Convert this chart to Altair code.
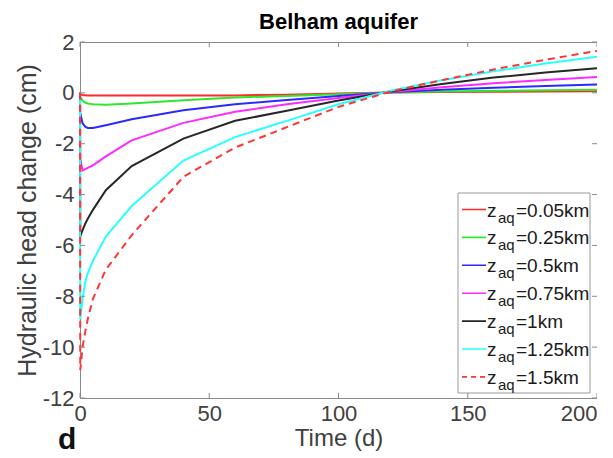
import altair as alt
import pandas as pd

# ---- data ----
t = [0, 0.1, 1, 2, 3, 5, 10, 20, 40, 60, 80, 100, 120, 140, 160, 180, 200]
z005 = [0, -0.05, -0.08, -0.09, -0.1, -0.1, -0.1, -0.1, -0.1, -0.1, -0.07, -0.03, 0.01, 0.03, 0.04, 0.05, 0.06]
z025 = [0, -0.15, -0.3, -0.38, -0.42, -0.45, -0.47, -0.42, -0.29, -0.18, -0.12, -0.05, 0.01, 0.05, 0.08, 0.1, 0.12]
z05 = [0, -0.8, -1.2, -1.33, -1.38, -1.38, -1.27, -1.04, -0.68, -0.45, -0.28, -0.12, 0.02, 0.12, 0.2, 0.27, 0.33]
z075 = [0, -2.6, -3.05, -3.0, -2.95, -2.85, -2.5, -1.87, -1.18, -0.74, -0.45, -0.2, 0.03, 0.22, 0.38, 0.51, 0.62]
z1 = [0, -5.65, -5.4, -5.15, -4.95, -4.6, -3.83, -2.88, -1.8, -1.1, -0.7, -0.3, 0.05, 0.35, 0.6, 0.8, 0.97]
z125 = [0, -8.9, -8.1, -7.45, -7.1, -6.6, -5.65, -4.45, -2.66, -1.74, -1.1, -0.45, 0.08, 0.5, 0.85, 1.15, 1.42]
z15 = [0, -10.9, -10.0, -9.4, -8.9, -8.1, -6.95, -5.6, -3.3, -2.15, -1.35, -0.55, 0.05, 0.5, 0.92, 1.3, 1.65]

series_vals = [z005, z025, z05, z075, z1, z125, z15]
series_labels = ["0.05", "0.25", "0.5", "0.75", "1", "1.25", "1.5"]
series_colors = ["#ff2a2a", "#2ee82e", "#2a2aff", "#ff2aff", "#262626", "#2affff", "#ff3535"]
series_dash = ["solid", "solid", "solid", "solid", "solid", "solid", "dash"]

x_ticks = [0, 50, 100, 150, 200]
y_ticks = [-12, -10, -8, -6, -4, -2, 0, 2]

title_text = "Belham aquifer"
panel_letter = "d"

FONT = "Liberation Sans"
W, H = 517, 356
FRAME = "#8a8a8a"
TXT = "#404040"

x_enc = alt.X("t:Q", scale=alt.Scale(domain=[0, 200], nice=False, zero=False),
              axis=alt.Axis(values=x_ticks, title="Time (d)", grid=False, domain=False,
                            ticks=False, labelPadding=5, titlePadding=2,
                            labelFlush=False,
                            labelAlign=alt.ExprRef("datum.value == 200 ? 'right' : 'center'")))
y_enc = alt.Y("v:Q", scale=alt.Scale(domain=[-12, 2], nice=False, zero=False),
              axis=alt.Axis(values=y_ticks, title="Hydraulic head change (cm)", grid=False,
                            domain=False, ticks=False, labelPadding=6, titlePadding=2,
                            labelFlush=False, labelExpr="toString(datum.value)"))

layers = []
for vals, col, dash in zip(series_vals, series_colors, series_dash):
    df = pd.DataFrame({"t": t, "v": vals})
    kw = dict(color=col, strokeWidth=2)
    if dash == "dash":
        kw["strokeDash"] = [7, 5]
    layers.append(alt.Chart(df).mark_line(**kw).encode(x=x_enc, y=y_enc))

# ---- legend (drawn, to allow the subscript) ----
leg = pd.DataFrame({
    "i": list(range(len(series_labels))),
    "lab": ["=" + s + "km" for s in series_labels],
    "col": series_colors,
    "dash": series_dash,
})
leg_base = alt.Chart(leg).transform_calculate(
    ly="167.5 + datum.i * 27.9",
    lyt="167.5 + datum.i * 27.9 + 7",
    lys="167.5 + datum.i * 27.9 + 13",
    zz="'z'", aq="'aq'",
)
box = alt.Chart(pd.DataFrame({"a": [0]})).mark_rect(
    fill="white", stroke="#9a9a9a", strokeWidth=1
).encode(x=alt.value(378), x2=alt.value(510), y=alt.value(151), y2=alt.value(351))

sym = leg_base.mark_rule(strokeWidth=1.6).encode(
    x=alt.value(382), x2=alt.value(406),
    y=alt.Y("ly:Q", scale=None, axis=None),
    color=alt.Color("col:N", scale=None, legend=None),
    strokeDash=alt.StrokeDash("dash:N", scale=alt.Scale(domain=["solid", "dash"],
                                                        range=[[1, 0], [5, 4]]), legend=None),
)
tz = leg_base.mark_text(align="left", baseline="alphabetic", font=FONT, fontSize=19,
                        color="#1a1a1a").encode(
    x=alt.value(407), y=alt.Y("lyt:Q", scale=None, axis=None), text="zz:N")
ta = leg_base.mark_text(align="left", baseline="alphabetic", font=FONT, fontSize=15,
                        color="#1a1a1a").encode(
    x=alt.value(418), y=alt.Y("lys:Q", scale=None, axis=None), text="aq:N")
tl = leg_base.mark_text(align="left", baseline="alphabetic", font=FONT, fontSize=19,
                        color="#1a1a1a").encode(
    x=alt.value(436), y=alt.Y("lyt:Q", scale=None, axis=None), text="lab:N")

# ---- inward ticks on all four sides ----
xt = pd.DataFrame({"t": x_ticks})
yt = pd.DataFrame({"v": y_ticks})
tick_b = alt.Chart(xt).mark_rule(color=FRAME, strokeWidth=1).encode(
    x=x_enc, y=alt.value(H), y2=alt.value(H - 5))
tick_t = alt.Chart(xt).mark_rule(color=FRAME, strokeWidth=1).encode(
    x=x_enc, y=alt.value(0), y2=alt.value(5))
tick_l = alt.Chart(yt).mark_rule(color=FRAME, strokeWidth=1).encode(
    y=y_enc, x=alt.value(0), x2=alt.value(5))
tick_r = alt.Chart(yt).mark_rule(color=FRAME, strokeWidth=1).encode(
    y=y_enc, x=alt.value(W), x2=alt.value(W - 5))

title_mark = alt.Chart(pd.DataFrame({"s": [title_text]})).mark_text(
    align="center", baseline="alphabetic", font=FONT, fontSize=22, fontWeight="bold",
    color="#000000").encode(x=alt.value(W / 2), y=alt.value(-13), text="s:N")

panel_tag = alt.Chart(pd.DataFrame({"s": [panel_letter]})).mark_text(
    align="left", baseline="alphabetic", font=FONT, fontSize=30, fontWeight="bold",
    color="#111111").encode(x=alt.value(-22), y=alt.value(407), text="s:N")

chart = alt.layer(*layers, box, sym, tz, ta, tl, tick_b, tick_t, tick_l, tick_r,
                  title_mark, panel_tag).properties(
    width=W, height=H,
    autosize=alt.AutoSizeParams(type="none"),
    padding={"left": 72, "top": 34, "right": 0, "bottom": 60},
).configure_view(
    stroke=FRAME, strokeWidth=1
).configure_axis(
    labelFont=FONT, labelFontSize=22, labelColor=TXT,
    titleFont=FONT, titleFontWeight="normal", titleColor=TXT,
).configure_axisX(titleFontSize=24).configure_axisY(titleFontSize=25)

chart.save("out.html", embed_options={"renderer": "svg", "actions": False})
